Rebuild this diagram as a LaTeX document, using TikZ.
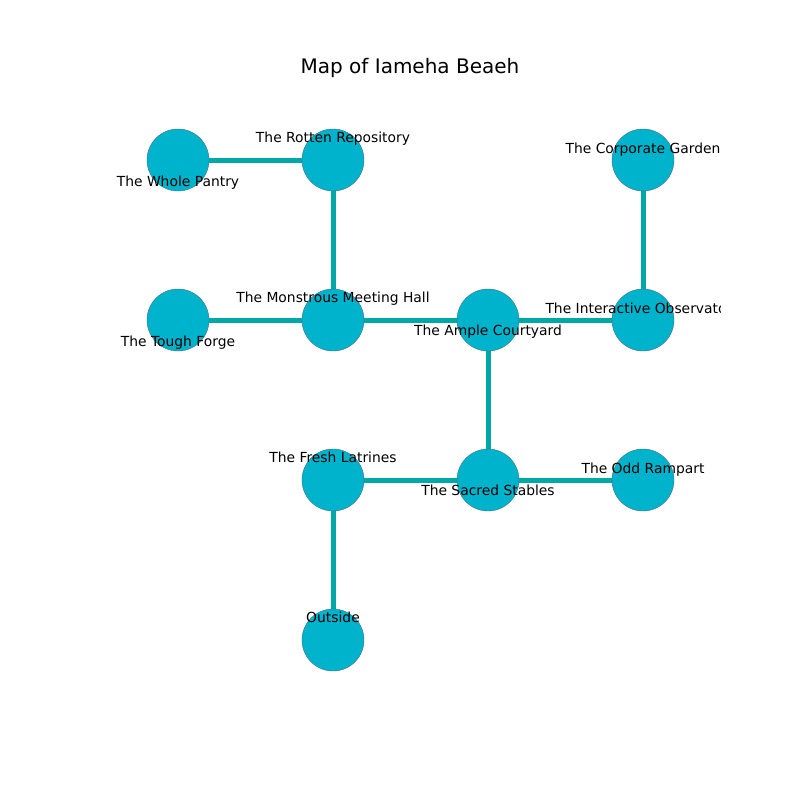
\documentclass[tikz,border=0pt]{standalone}
\usepackage{fontspec}
\setmainfont{DejaVu Sans}
\definecolor{nodefill}{RGB}{0,179,204}
\definecolor{edgecol}{RGB}{0,168,168}
\definecolor{rimcol}{RGB}{60,110,130}
\begin{document}
\begin{tikzpicture}[x=0.75pt,y=-0.75pt,
  room/.style={circle,fill=nodefill,draw=rimcol,line width=0.3pt,minimum size=46.5pt,inner sep=0pt},
  link/.style={draw=edgecol,line width=3.75pt},
  lbl/.style={font=\fontsize{10.4}{12}\selectfont,inner sep=0pt,anchor=base}]
\useasboundingbox (0,0) rectangle (800,800);
\fill[white] (0,0) rectangle (800,800);
\node[font=\fontsize{15}{18}\selectfont,inner sep=0pt,anchor=base] (title) at (410,73) {Map of Iameha Beaeh};
% node positions
\coordinate (pW) at (178,160);
\coordinate (pR) at (333,160);
\coordinate (pC) at (643,160);
\coordinate (pT) at (178,320);
\coordinate (pM) at (333,320);
\coordinate (pA) at (488,320);
\coordinate (pI) at (643,320);
\coordinate (pF) at (333,480);
\coordinate (pS) at (488,480);
\coordinate (pO) at (643,480);
\coordinate (pX) at (333,640);
% edges
\draw[link] (pW) -- (pR);
\draw[link] (pR) -- (pM);
\draw[link] (pC) -- (pI);
\draw[link] (pT) -- (pM);
\draw[link] (pM) -- (pA);
\draw[link] (pA) -- (pI);
\draw[link] (pA) -- (pS);
\draw[link] (pF) -- (pS);
\draw[link] (pS) -- (pO);
\draw[link] (pF) -- (pX);
% nodes
\node[room] (W) at (pW) {};
\node[room] (R) at (pR) {};
\node[room] (C) at (pC) {};
\node[room] (T) at (pT) {};
\node[room] (M) at (pM) {};
\node[room] (A) at (pA) {};
\node[room] (I) at (pI) {};
\node[room] (F) at (pF) {};
\node[room] (S) at (pS) {};
\node[room] (O) at (pO) {};
\node[room] (X) at (pX) {};
% labels
\begin{scope}
\clip (100,96) rectangle (720,712);
\node[lbl] (lW) at (178,186.3) {The Whole Pantry};
\node[lbl] (lR) at (333,142.2) {The Rotten Repository};
\node[lbl] (lC) at (643,153.3) {The Corporate Garden};
\node[lbl] (lM) at (333,302.2) {The Monstrous Meeting Hall};
\node[lbl] (lT) at (178,346.3) {The Tough Forge};
\node[lbl] (lA) at (488,335.3) {The Ample Courtyard};
\node[lbl] (lI) at (643,313.3) {The Interactive Observatory};
\node[lbl] (lF) at (333,462.2) {The Fresh Latrines};
\node[lbl] (lS) at (488,495.3) {The Sacred Stables};
\node[lbl] (lO) at (643,473.3) {The Odd Rampart};
\node[lbl] (lX) at (333,622.2) {Outside};
\end{scope}
\end{tikzpicture}
\end{document}
